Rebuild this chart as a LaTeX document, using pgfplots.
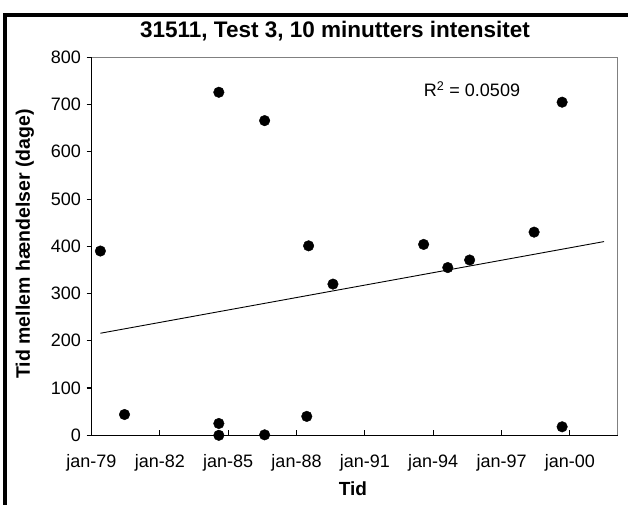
\documentclass[border=0pt]{standalone}
\usepackage{fontspec}
\setmainfont{Liberation Sans}
\usepackage{pgfplots}
\pgfplotsset{compat=1.18}

\begin{document}
\begin{tikzpicture}
  \useasboundingbox (0pt,0pt) rectangle (628pt,505pt);
  % outer chart frame (cropped at right and bottom)
  \draw[line width=4pt, line join=miter] (5pt,0pt) -- (5pt,490.3pt) -- (640pt,490.3pt);

  \begin{axis}[
      at={(91.5pt,69.7pt)}, anchor=south west,
      scale only axis,
      width=526.2pt, height=378pt,
      xmin=1979, xmax=2002.1,
      ymin=0, ymax=800,
      axis x line=bottom, axis y line=left,
      axis line style={-, black, line width=1.2pt},
      xtick={1979,1982,1985,1988,1991,1994,1997,2000},
      xticklabels={jan-79,jan-82,jan-85,jan-88,jan-91,jan-94,jan-97,jan-00},
      ytick={0,100,...,800},
      xtick align=inside, ytick align=outside,
      major tick length=5pt,
      tick style={black, line width=1.1pt},
      tick label style={font=\fontsize{18}{20}\selectfont},
      xticklabel style={yshift=-16pt},
      yticklabel style={xshift=-2pt},
      /pgf/number format/assume math mode=true,
      clip=false,
    ]
    \draw[gray, line width=1pt] (rel axis cs:0,1) -- (rel axis cs:1,1) -- (rel axis cs:1,0);

    % linear trend line
    \addplot[black, line width=0.9pt] coordinates {(1979.39,216) (2001.5,410)};

    \addplot[only marks, mark=*, mark size=5.3pt, black] coordinates {
      (1979.39,390)
      (1980.45,44)
      (1984.59,726)
      (1984.59,25)
      (1984.59,0)
      (1986.60,666)
      (1986.60,1)
      (1988.53,401)
      (1988.45,40)
      (1989.60,320)
      (1993.58,404)
      (1994.64,355)
      (1995.60,371)
      (1998.43,430)
      (1999.66,705)
      (1999.66,18)
    };
  \end{axis}

  \node[font=\fontsize{22.5}{24}\selectfont\bfseries] at (335pt,474pt) {31511, Test 3, 10 minutters intensitet};
  \node[font=\fontsize{19.5}{22}\selectfont\bfseries, rotate=90] at (25pt,261pt) {Tid mellem hændelser (dage)};
  \node[font=\fontsize{19}{21}\selectfont\bfseries] at (353pt,16pt) {Tid};
  \node[font=\fontsize{18}{20}\selectfont] at (472pt,416pt) {R\textsuperscript{2} = 0.0509};
\end{tikzpicture}
\end{document}
